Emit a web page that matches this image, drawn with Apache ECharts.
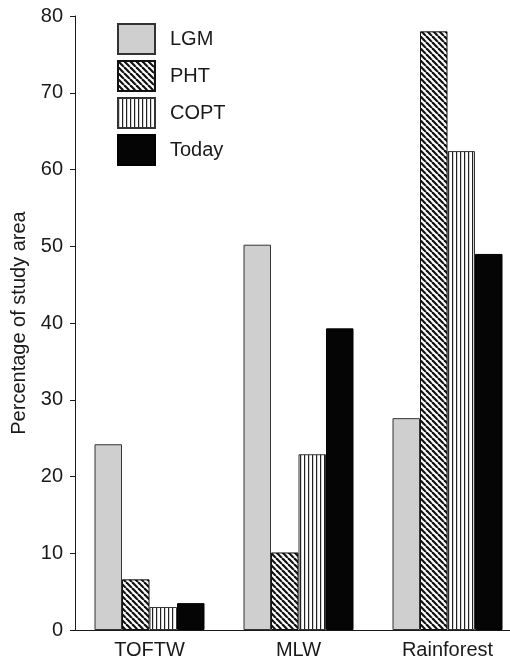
<!DOCTYPE html>
<html>
<head>
<meta charset="utf-8">
<script src="https://cdn.jsdelivr.net/npm/echarts@6/dist/echarts.min.js"></script>
<style>
  html, body { margin: 0; padding: 0; background: #fff; }
  #chart { width: 510px; height: 660px; }
</style>
</head>
<body>
<div id="chart"></div>
<script>
var categories = ['TOFTW', 'MLW', 'Rainforest'];
var lgm = [24.2, 50.2, 27.6];
var pht = [6.6, 10.1, 78.0];
var copt = [3.0, 22.9, 62.4];
var today = [3.5, 39.3, 49.0];
var yTicks = [0, 80, 10]; // min, max, step

// hatch tiles for the black and white fills
function hatch(kind) {
    var c = document.createElement('canvas');
    var ctx;
    if (kind === 'diag') {
        c.width = 6; c.height = 6;
        ctx = c.getContext('2d');
        ctx.fillStyle = '#fff';
        ctx.fillRect(0, 0, 6, 6);
        ctx.strokeStyle = '#111';
        ctx.lineWidth = 2.2;
        [-6, 0, 6].forEach(function (x0) {
            ctx.beginPath();
            ctx.moveTo(x0, 0);
            ctx.lineTo(x0 + 6, 6);
            ctx.stroke();
        });
    } else {
        c.width = 4; c.height = 4;
        ctx = c.getContext('2d');
        ctx.fillStyle = '#fff';
        ctx.fillRect(0, 0, 4, 4);
        ctx.fillStyle = '#222';
        ctx.fillRect(0, 0, 1.2, 4);
    }
    return { image: c, repeat: 'repeat' };
}

var font = 'Liberation Sans, Arial, sans-serif';
var styles = {
    LGM:   { color: '#cfcfcf', borderColor: '#333', borderWidth: 1 },
    PHT:   { color: hatch('diag'), borderColor: '#111', borderWidth: 1 },
    COPT:  { color: hatch('vert'), borderColor: '#333', borderWidth: 1 },
    Today: { color: '#050505', borderColor: '#000', borderWidth: 1 }
};

function bar(name, data) {
    return {
        name: name,
        type: 'bar',
        data: data,
        barWidth: 27.5,
        barGap: '0%',
        itemStyle: styles[name]
    };
}

var chart = echarts.init(document.getElementById('chart'));
chart.setOption({
    backgroundColor: '#fff',
    animation: false,
    textStyle: { fontFamily: font, color: '#1a1a1a' },
    grid: { left: 75, width: 447, top: 16, bottom: 30, containLabel: false, outerBoundsMode: 'none' },
    legend: {
        orient: 'vertical',
        left: 117,
        top: 23,
        padding: 0,
        itemWidth: 37,
        itemHeight: 30,
        itemGap: 5,
        icon: 'rect',
        textStyle: { fontSize: 20, lineHeight: 30, fontFamily: font, color: '#1a1a1a', padding: [0, 0, 0, 10] },
        data: ['LGM', 'PHT', 'COPT', 'Today']
    },
    xAxis: {
        type: 'category',
        data: categories,
        axisLine: { lineStyle: { color: '#1a1a1a', width: 1 } },
        axisTick: { inside: true, length: 5, lineStyle: { color: '#1a1a1a' } },
        axisLabel: { fontSize: 20, color: '#1a1a1a', margin: 10 }
    },
    yAxis: {
        type: 'value',
        min: yTicks[0],
        max: yTicks[1],
        interval: yTicks[2],
        name: 'Percentage of study area',
        nameLocation: 'middle',
        nameGap: 46,
        nameTextStyle: { fontSize: 20, color: '#1a1a1a' },
        splitLine: { show: false },
        axisLine: { show: true, lineStyle: { color: '#1a1a1a', width: 1 } },
        axisTick: { show: true, length: 5, lineStyle: { color: '#1a1a1a' } },
        axisLabel: { fontSize: 20, color: '#1a1a1a', margin: 12 }
    },
    series: [
        bar('LGM', lgm),
        bar('PHT', pht),
        bar('COPT', copt),
        bar('Today', today)
    ]
});
</script>
</body>
</html>
